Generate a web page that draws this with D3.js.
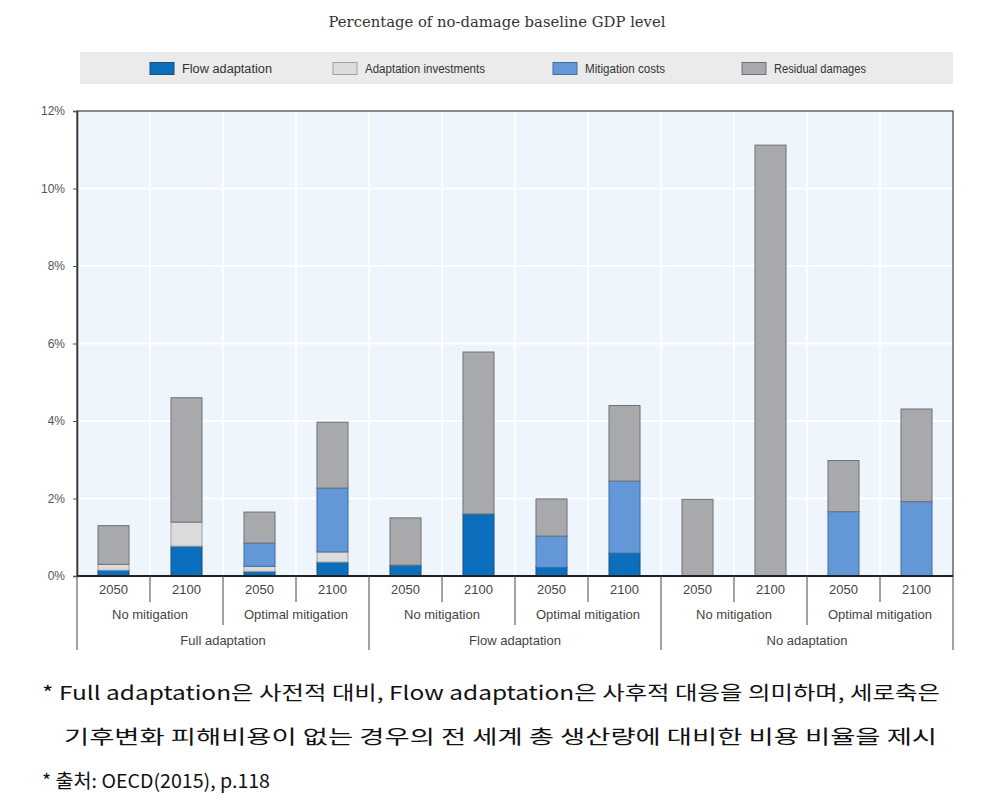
<!DOCTYPE html>
<html><head><meta charset="utf-8">
<script src="https://cdn.jsdelivr.net/npm/d3@7"></script>
<style>
body{margin:0;background:#fff;}
svg{display:block;}
</style></head>
<body>
<svg id="c" width="997" height="806"></svg>
<script>
const years = ["2050","2100","2050","2100","2050","2100","2050","2100","2050","2100","2050","2100"];
const mitigationLabels = ["No mitigation","Optimal mitigation","No mitigation","Optimal mitigation","No mitigation","Optimal mitigation"];
const adaptationLabels = ["Full adaptation","Flow adaptation","No adaptation"];
const seriesNames = ["Flow adaptation","Adaptation investments","Mitigation costs","Residual damages"];
const flowAdaptation = [0.15,0.77,0.12,0.36, 0.28,1.60,0.22,0.59, 0,0,0,0];
const adaptationInvestments = [0.15,0.62,0.13,0.26, 0,0,0,0, 0,0,0,0];
const mitigationCosts = [0,0,0.60,1.65, 0,0,0.81,1.86, 0,0,1.66,1.92];
const residualDamages = [1.00,3.21,0.80,1.70, 1.22,4.18,0.96,1.95, 1.98,11.12,1.32,2.39];
const yTicks = [0,2,4,6,8,10,12];
const title = "Percentage of no-damage baseline GDP level";
const notes = [
  "* Full adaptation은 사전적 대비, Flow adaptation은 사후적 대응을 의미하며, 세로축은",
  "기후변화 피해비용이 없는 경우의 전 세계 총 생산량에 대비한 비용 비율을 제시",
  "* 출처: OECD(2015), p.118"
];

const colors = ["#0b6fbe","#dcdcdc","#6397d8","#a7a9ac"];
const strokes = ["#1a4f80","#a0a0a0","#3f6ea6","#6f7275"];

const svg = d3.select("#c");
const L=77, R=953, T=111, B=576;
const narrow = "'Liberation Sans Narrow','Arial Narrow','Liberation Sans',Arial,sans-serif";

const table = years.map((y,i)=>({i, f:flowAdaptation[i], a:adaptationInvestments[i], m:mitigationCosts[i], r:residualDamages[i]}));
const keys = ["f","a","m","r"];
const stack = d3.stack().keys(keys)(table);

const x = d3.scaleBand().domain(d3.range(years.length)).range([L,R]).paddingInner(0.575).paddingOuter(0.2875);
const y = d3.scaleLinear().domain([0,12]).range([B,T]);
const step = x.step();

// title
svg.append("text").attr("x",497).attr("y",27).attr("text-anchor","middle")
  .attr("font-family","'DejaVu Serif','Liberation Serif',serif").attr("font-size",14).attr("fill","#333")
  .attr("textLength",337).attr("lengthAdjust","spacingAndGlyphs").text(title);

// legend
svg.append("rect").attr("x",80).attr("y",52).attr("width",873).attr("height",32).attr("fill","#ebebeb");
const legX = [150,333,553,742];
const legW = [90,120,80,92];
seriesNames.forEach((n,k)=>{
  svg.append("rect").attr("x",legX[k]).attr("y",62.5).attr("width",24).attr("height",12)
    .attr("fill",colors[k]).attr("stroke",strokes[k]).attr("stroke-width",1);
  svg.append("text").attr("x",legX[k]+32).attr("y",73).attr("font-family",narrow).attr("font-size",12)
    .attr("fill","#333").attr("textLength",legW[k]).attr("lengthAdjust","spacingAndGlyphs").text(n);
});

// plot background
svg.append("rect").attr("x",L).attr("y",T).attr("width",R-L).attr("height",B-T).attr("fill","#eef5fd");
// grid
svg.append("g").selectAll("line").data(yTicks.slice(1,-1)).join("line")
  .attr("x1",L).attr("x2",R).attr("y1",d=>y(d)).attr("y2",d=>y(d)).attr("stroke","#fff").attr("stroke-width",2);
svg.append("g").selectAll("line").data(d3.range(1,years.length)).join("line")
  .attr("x1",d=>L+d*step).attr("x2",d=>L+d*step).attr("y1",T).attr("y2",B).attr("stroke","#fff").attr("stroke-width",2);

// bars
svg.append("g").selectAll("g").data(stack).join("g")
  .attr("fill",(d,k)=>colors[k]).attr("stroke",(d,k)=>strokes[k]).attr("stroke-width",1)
  .selectAll("rect").data(d=>d.filter(s=>s[1]-s[0]>0)).join("rect")
  .attr("x",d=>x(d.data.i)).attr("width",x.bandwidth())
  .attr("y",d=>y(d[1])).attr("height",d=>y(d[0])-y(d[1]));

// frame
svg.append("rect").attr("x",L).attr("y",T).attr("width",R-L).attr("height",B-T).attr("fill","none").attr("stroke","#444").attr("stroke-width",1.2);

// y axis
const yAxis = d3.axisLeft(y).tickValues(yTicks).tickFormat(d=>d+"%").tickSize(4).tickPadding(8);
const gy = svg.append("g").attr("transform",`translate(${L},0)`).call(yAxis);
gy.select(".domain").attr("stroke","#333").attr("stroke-width",1.5);
gy.selectAll(".tick line").attr("stroke","#555");
gy.selectAll("text").attr("font-family",narrow).attr("font-size",12).attr("fill","#555");

// x axis (years)
const xAxis = d3.axisBottom(x).tickFormat(i=>years[i]).tickSize(0).tickPadding(9);
const gx = svg.append("g").attr("transform",`translate(0,${B})`).call(xAxis);
gx.select(".domain").remove();
gx.selectAll("text").attr("font-family",narrow).attr("font-size",13).attr("fill","#444");
svg.append("line").attr("x1",L).attr("x2",R).attr("y1",B).attr("y2",B).attr("stroke","#222").attr("stroke-width",2);

// separators
const sep = svg.append("g").attr("stroke","#444").attr("stroke-width",1);
d3.range(0,years.length+1).forEach(j=>{
  let len = 26;
  if (j%2===0) len = 49;
  if (j%4===0) len = 74;
  sep.append("line").attr("x1",L+j*step).attr("x2",L+j*step).attr("y1",B).attr("y2",B+len);
});
// mitigation labels
mitigationLabels.forEach((t,k)=>{
  svg.append("text").attr("x",L+(k*2+1)*step).attr("y",619).attr("text-anchor","middle")
    .attr("font-family",narrow).attr("font-size",13).attr("fill","#444").text(t);
});
adaptationLabels.forEach((t,k)=>{
  svg.append("text").attr("x",L+(k*4+2)*step).attr("y",645).attr("text-anchor","middle")
    .attr("font-family",narrow).attr("font-size",13).attr("fill","#444").text(t);
});

// notes
const nx=[42,64,42], ny=[700,744,788], nw=[898,873,228];
notes.forEach((t,k)=>{
  svg.append("text").attr("x",nx[k]).attr("y",ny[k])
    .attr("font-family","'Noto Sans CJK KR',sans-serif").attr("font-size",19).attr("fill","#111")
    .attr("textLength",nw[k]).attr("lengthAdjust","spacingAndGlyphs").text(t);
});
</script>
</body></html>
